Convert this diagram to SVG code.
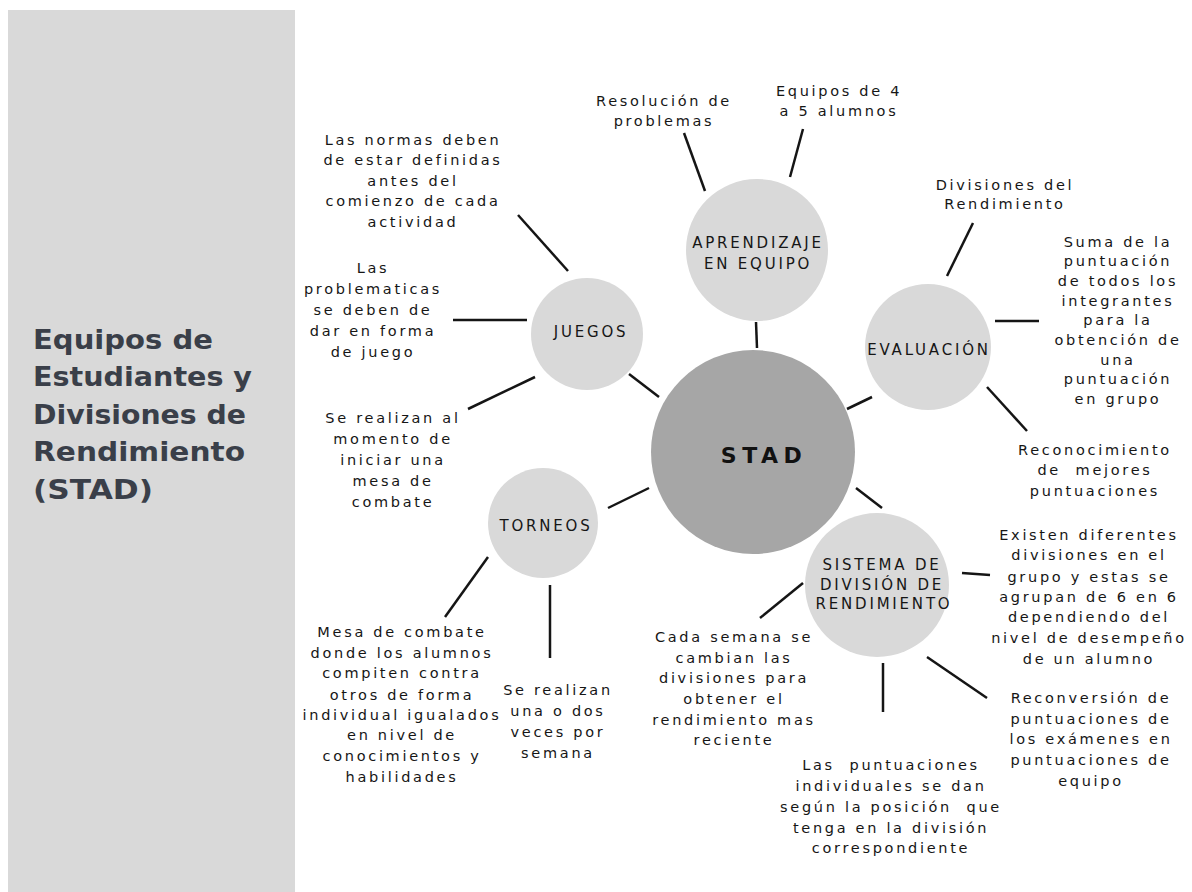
<svg xmlns="http://www.w3.org/2000/svg" width="1192" height="892" viewBox="0 0 1192 892">
<style>
.bg{fill:#ffffff}
.panel{fill:#d9d9d9}
.title{font-family:"DejaVu Sans","Liberation Sans",sans-serif;font-weight:bold;font-size:27px;fill:#3a3f49}
.node{fill:#d9d9d9}
.hub{fill:#a6a6a6}
.lbl{font-family:"DejaVu Sans","Liberation Sans",sans-serif;font-size:15px;letter-spacing:2.8px;fill:#161616;text-anchor:middle}
.hubl{font-family:"DejaVu Sans","Liberation Sans",sans-serif;font-weight:bold;font-size:22px;letter-spacing:5.5px;fill:#111111;text-anchor:middle}
.t{font-family:"DejaVu Sans","Liberation Sans",sans-serif;font-size:14.5px;letter-spacing:2.7px;fill:#161616;text-anchor:middle}
.c line{stroke:#151515;stroke-width:2.5;stroke-linecap:butt}
</style>
<rect class="bg" x="0" y="0" width="1192" height="892"/>
<g id="panel">
<rect class="panel" x="8" y="10" width="287" height="882"/>
<text class="title" x="33" y="349" textLength="180" lengthAdjust="spacingAndGlyphs">Equipos de</text>
<text class="title" x="33" y="386" textLength="219" lengthAdjust="spacingAndGlyphs">Estudiantes y</text>
<text class="title" x="33" y="424" textLength="213" lengthAdjust="spacingAndGlyphs">Divisiones de</text>
<text class="title" x="33" y="461" textLength="212" lengthAdjust="spacingAndGlyphs">Rendimiento</text>
<text class="title" x="33" y="499" textLength="120" lengthAdjust="spacingAndGlyphs">(STAD)</text>
</g>
<g id="connectors" class="c">
<line x1="684" y1="133" x2="705" y2="191"/>
<line x1="803" y1="129" x2="790" y2="177"/>
<line x1="756" y1="322" x2="757" y2="348"/>
<line x1="518" y1="215" x2="568" y2="271"/>
<line x1="453" y1="320" x2="527" y2="320"/>
<line x1="468" y1="409" x2="535" y2="377"/>
<line x1="629" y1="374" x2="659" y2="397"/>
<line x1="608" y1="508" x2="649" y2="488"/>
<line x1="488" y1="557" x2="445" y2="617"/>
<line x1="550" y1="585" x2="550" y2="658"/>
<line x1="973" y1="223" x2="947" y2="276"/>
<line x1="995" y1="321" x2="1039" y2="321"/>
<line x1="872" y1="397" x2="847" y2="409"/>
<line x1="987" y1="387" x2="1027" y2="431"/>
<line x1="856" y1="488" x2="882" y2="508"/>
<line x1="962" y1="573" x2="990" y2="575"/>
<line x1="927" y1="657" x2="987" y2="698"/>
<line x1="883" y1="663" x2="883" y2="712"/>
<line x1="803" y1="583" x2="760" y2="618"/>
</g>
<g id="stad">
<circle class="hub" cx="753" cy="452" r="102"/>
<text class="hubl" x="764" y="463">STAD</text>
</g>
<g id="aprendizaje">
<circle class="node" cx="757" cy="250" r="71"/>
<text class="lbl" x="758" y="248">APRENDIZAJE</text>
<text class="lbl" x="758" y="269">EN EQUIPO</text>
</g>
<g id="juegos">
<circle class="node" cx="587" cy="334" r="56"/>
<text class="lbl" x="591" y="337">JUEGOS</text>
</g>
<g id="evaluacion">
<circle class="node" cx="928" cy="347" r="63"/>
<text class="lbl" x="929" y="355">EVALUACIÓN</text>
</g>
<g id="torneos">
<circle class="node" cx="543" cy="523" r="55"/>
<text class="lbl" x="546" y="531">TORNEOS</text>
</g>
<g id="sistema">
<circle class="node" cx="877" cy="585" r="72"/>
<text class="lbl" x="882" y="570">SISTEMA DE</text>
<text class="lbl" x="882" y="590">DIVISIÓN DE</text>
<text class="lbl" x="884" y="609">RENDIMIENTO</text>
</g>
<g id="n-resolucion">
<text class="t"><tspan x="664" y="106">Resolución de</tspan><tspan x="664" y="126">problemas</tspan></text>
</g>
<g id="n-equipos">
<text class="t"><tspan x="839" y="96">Equipos de 4</tspan><tspan x="839" y="116">a 5 alumnos</tspan></text>
</g>
<g id="n-normas">
<text class="t"><tspan x="413" y="145">Las normas deben</tspan><tspan x="413" y="165">de estar definidas</tspan><tspan x="413" y="186">antes del</tspan><tspan x="413" y="206">comienzo de cada</tspan><tspan x="413" y="227">actividad</tspan></text>
</g>
<g id="n-problematicas">
<text class="t"><tspan x="373" y="273">Las</tspan><tspan x="373" y="294">problematicas</tspan><tspan x="373" y="315">se deben de</tspan><tspan x="373" y="336">dar en forma</tspan><tspan x="373" y="357">de juego</tspan></text>
</g>
<g id="n-serealizanal">
<text class="t"><tspan x="393" y="423">Se realizan al</tspan><tspan x="393" y="444">momento de</tspan><tspan x="393" y="465">iniciar una</tspan><tspan x="393" y="486">mesa de</tspan><tspan x="393" y="507">combate</tspan></text>
</g>
<g id="n-mesa">
<text class="t"><tspan x="402" y="637">Mesa de combate</tspan><tspan x="402" y="658">donde los alumnos</tspan><tspan x="402" y="678">compiten contra</tspan><tspan x="402" y="700">otros de forma</tspan><tspan x="402" y="720">individual igualados</tspan><tspan x="402" y="740">en nivel de</tspan><tspan x="402" y="761">conocimientos y</tspan><tspan x="402" y="782">habilidades</tspan></text>
</g>
<g id="n-semana">
<text class="t"><tspan x="558" y="695">Se realizan</tspan><tspan x="558" y="716">una o dos</tspan><tspan x="558" y="737">veces por</tspan><tspan x="558" y="758">semana</tspan></text>
</g>
<g id="n-divisiones">
<text class="t"><tspan x="1005" y="190">Divisiones del</tspan><tspan x="1005" y="209">Rendimiento</tspan></text>
</g>
<g id="n-suma">
<text class="t"><tspan x="1118" y="247">Suma de la</tspan><tspan x="1118" y="266">puntuación</tspan><tspan x="1118" y="286">de todos los</tspan><tspan x="1118" y="306">integrantes</tspan><tspan x="1118" y="325">para la</tspan><tspan x="1118" y="345">obtención de</tspan><tspan x="1118" y="365">una</tspan><tspan x="1118" y="384">puntuación</tspan><tspan x="1118" y="404">en grupo</tspan></text>
</g>
<g id="n-reconocimiento">
<text class="t" xml:space="preserve"><tspan x="1095" y="455">Reconocimiento</tspan><tspan x="1095" y="475">de  mejores</tspan><tspan x="1095" y="496">puntuaciones</tspan></text>
</g>
<g id="n-existen">
<text class="t"><tspan x="1089" y="540">Existen diferentes</tspan><tspan x="1089" y="560">divisiones en el</tspan><tspan x="1089" y="582">grupo y estas se</tspan><tspan x="1089" y="602">agrupan de 6 en 6</tspan><tspan x="1089" y="622">dependiendo del</tspan><tspan x="1089" y="643">nivel de desempeño</tspan><tspan x="1089" y="664">de un alumno</tspan></text>
</g>
<g id="n-reconversion">
<text class="t"><tspan x="1091" y="703">Reconversión de</tspan><tspan x="1091" y="724">puntuaciones de</tspan><tspan x="1091" y="744">los exámenes en</tspan><tspan x="1091" y="765">puntuaciones de</tspan><tspan x="1091" y="786">equipo</tspan></text>
</g>
<g id="n-individuales">
<text class="t" xml:space="preserve"><tspan x="891" y="770">Las  puntuaciones</tspan><tspan x="891" y="791">individuales se dan</tspan><tspan x="891" y="812">según la posición  que</tspan><tspan x="891" y="833">tenga en la división</tspan><tspan x="891" y="853">correspondiente</tspan></text>
</g>
<g id="n-cadasemana">
<text class="t"><tspan x="734" y="642">Cada semana se</tspan><tspan x="734" y="663">cambian las</tspan><tspan x="734" y="683">divisiones para</tspan><tspan x="734" y="704">obtener el</tspan><tspan x="734" y="725">rendimiento mas</tspan><tspan x="734" y="745">reciente</tspan></text>
</g>
</svg>
